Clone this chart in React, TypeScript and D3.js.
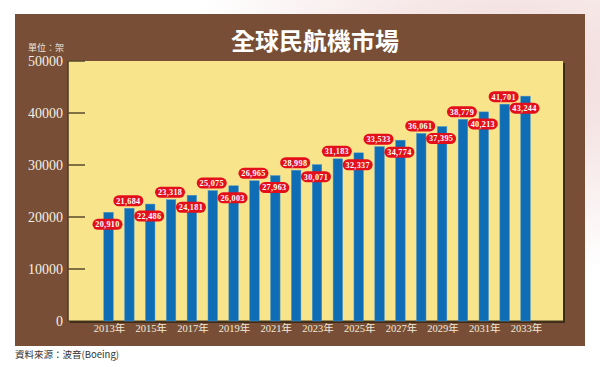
import React from 'react';
import * as d3 from 'd3';

// data
const years = d3.range(2013, 2034).map(String);
const fleet = [
  20910, 21684, 22486, 23318, 24181, 25075, 26003, 26965, 27963, 28998,
  30071, 31183, 32337, 33533, 34774, 36061, 37395, 38779, 40213, 41701, 43244,
];
const yTicks = [0, 10000, 20000, 30000, 40000, 50000];
const yearLabels = years.filter((_, i) => i % 2 === 0);

const W = 600;
const H = 367;
const plot = { left: 68, top: 61, right: 563, bottom: 321 };

const serif = '"Liberation Serif", "Noto Sans CJK TC", serif';
const cjk = '"Noto Sans CJK TC", sans-serif';

export default function App() {
  const x = d3.scalePoint<string>().domain(years).range([108.5, 525.5]);
  const y = d3.scaleLinear().domain([0, 50000]).range([plot.bottom, plot.top]);
  const barW = 9.5;
  const fmt = d3.format(',');

  return (
    <svg width={W} height={H} style={{ position: 'absolute', left: 0, top: 0 }}>
      <defs>
        <radialGradient id="glow" cx="0.85" cy="0.2" r="0.55">
          <stop offset="0" stopColor="#f0d6d6" />
          <stop offset="1" stopColor="#ffffff" />
        </radialGradient>
      </defs>
      <rect width={W} height={H} fill="url(#glow)" />
      <rect x={0} y={345} width={W} height={22} fill="#fff" />

      {/* brown panel */}
      <rect x={15} y={14} width={570} height={332} fill="#784f36" />

      <text x={315} y={50} textAnchor="middle" fill="#fff" fontFamily={cjk}
        fontWeight="bold" fontSize={24}>全球民航機市場</text>
      <text x={28} y={51} fill="#efe6dc" fontFamily={cjk} fontSize={9}>單位：架</text>

      {/* plot area */}
      <rect x={plot.left + 2} y={plot.top + 2} width={plot.right - plot.left}
        height={plot.bottom - plot.top} fill="#3e2c18" />
      <rect x={plot.left} y={plot.top} width={plot.right - plot.left}
        height={plot.bottom - plot.top} fill="#f8e48b" />
      <line x1={plot.left} x2={plot.left} y1={plot.top} y2={plot.bottom}
        stroke="#4a3a22" strokeWidth={1.5} />
      <line x1={plot.left} x2={plot.right} y1={plot.bottom} y2={plot.bottom}
        stroke="#4a3a22" strokeWidth={1.2} />

      {yTicks.map(t => (
        <g key={t}>
          {t > 0 && (
            <line x1={plot.left} x2={plot.left + 17} y1={y(t)} y2={y(t)}
              stroke="#5a4a2c" strokeWidth={1.5} />
          )}
          <text x={63} y={y(t)} dy="0.35em" textAnchor="end" fill="#f5eee2"
            fontFamily={serif} fontSize={14}>{t}</text>
        </g>
      ))}

      {years.map((yr, i) => (
        <rect key={yr} x={x(yr)! - barW / 2} y={y(fleet[i])} width={barW}
          height={plot.bottom - y(fleet[i])} fill="#0f6db6"
          stroke="#4f95c8" strokeWidth={0.5} />
      ))}

      {yearLabels.map(yr => (
        <text key={yr} x={x(yr)! + 1} y={332} textAnchor="middle" fill="#f3ead9"
          fontFamily={serif} fontSize={10.5}>{yr}年</text>
      ))}

      {years.map((yr, i) => {
        const above = i % 2 === 1;
        const cy = y(fleet[i]) + (above ? -7.5 : 12);
        const cx = x(yr)! - 1;
        return (
          <g key={'v' + yr}>
            <rect x={cx - 15} y={cy - 5.5} width={30} height={11} rx={5.5}
              fill="#e3101b" />
            <text x={cx} y={cy} dy="0.35em" textAnchor="middle" fill="#fff"
              fontFamily={serif} fontWeight="bold" fontSize={8.2}
              letterSpacing={0.3}>{fmt(fleet[i])}</text>
          </g>
        );
      })}

      <text x={15} y={358} fill="#333" fontFamily={cjk} fontSize={9.5}>資料來源：波音(Boeing)</text>
    </svg>
  );
}
